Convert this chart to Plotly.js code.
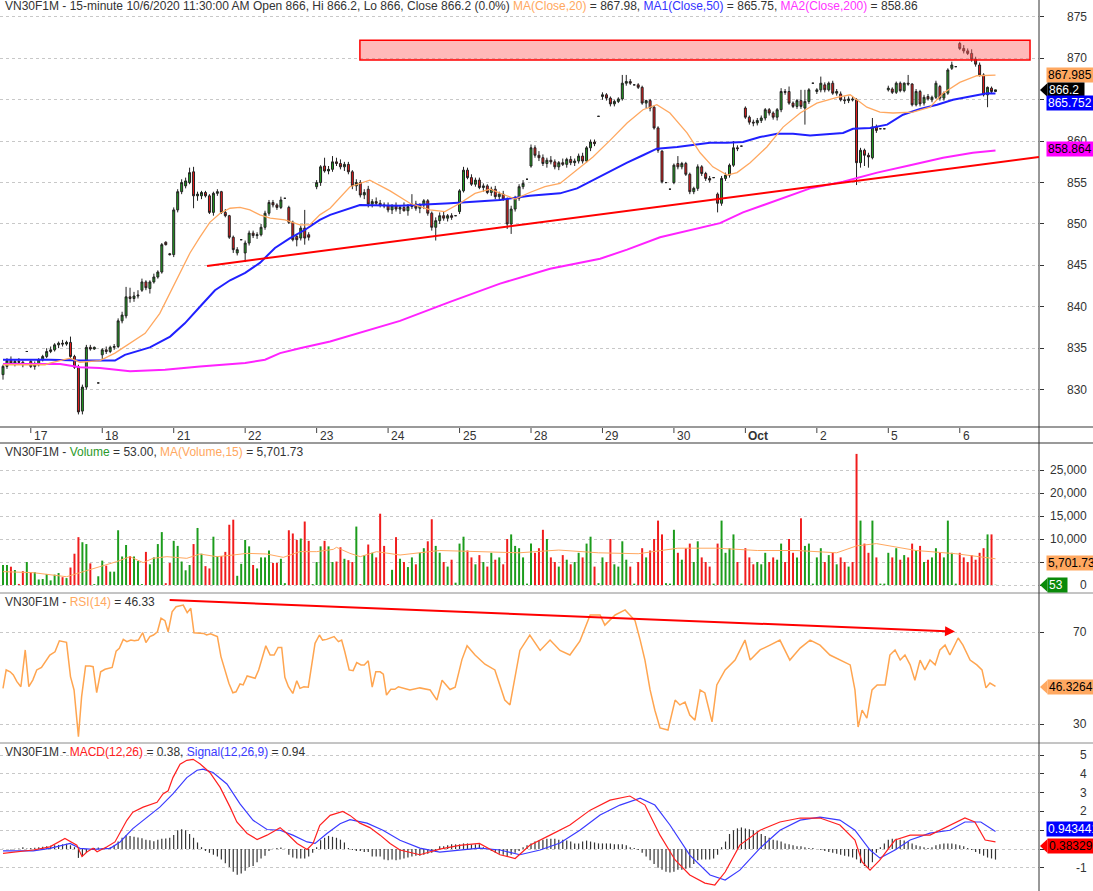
<!DOCTYPE html>
<html><head><meta charset="utf-8">
<script src="https://cdn.plot.ly/plotly-3.0.1.min.js"></script>
<style>html,body{margin:0;padding:0;background:#fff;}#chart{width:1093px;height:891px;}</style>
</head><body><div id="chart"></div>
<script>
// ---------------- DATA ----------------
const open = [
831.8,832.8,833.5,833.2,833.4,833.3,834.6,
833.4,832.8,833.0,833.6,834.0,834.6,834.8,835.4,835.6,835.5,835.7,834.0,832.7,827.4,830.3,835.1,834.9,830.8,
834.2,834.8,834.6,835.1,835.2,838.3,838.9,841.2,841.0,841.3,842.0,843.0,842.2,843.0,843.6,844.2,847.8,846.4,
846.3,851.7,853.9,854.6,855.0,856.3,853.4,853.4,853.8,853.4,851.4,853.7,853.9,851.4,851.0,848.4,846.5,848.1,
846.5,847.7,848.9,848.6,848.7,849.6,851.3,852.6,852.3,852.0,853.1,852.0,850.2,848.5,848.3,849.5,848.7,850.0,
854.5,855.0,857.0,856.4,856.6,857.5,857.3,856.9,857.2,856.3,854.6,855.0,853.5,854.2,852.4,852.7,852.5,852.3,
852.2,851.7,852.2,851.8,852.0,851.6,852.1,852.4,851.9,852.3,852.8,851.3,849.6,850.4,851.0,850.7,851.0,851.0,
851.5,854.0,856.5,855.6,854.8,855.3,854.4,854.6,853.8,854.2,853.3,853.6,853.0,850.0,851.8,853.1,854.5,855.4,
857.0,859.2,858.3,858.0,857.3,857.7,857.5,856.9,857.4,857.2,857.8,857.4,857.6,858.2,857.6,859.2,859.9,863.0,
865.4,865.6,865.2,864.5,864.8,865.1,867.0,867.2,866.8,866.8,866.5,864.6,864.9,864.1,861.6,858.8,855.0,854.2,
855.0,857.3,856.9,857.3,856.0,853.9,854.3,856.9,856.1,855.5,855.6,853.6,852.5,855.5,855.9,857.1,859.2,859.4,
864.0,862.9,862.3,862.2,862.5,862.8,863.8,863.4,862.9,863.8,866.0,866.0,864.6,864.2,864.9,864.0,864.8,867.0,
866.0,866.2,866.8,866.2,867.0,865.8,865.7,865.0,864.9,865.1,865.0,857.4,858.9,858.3,858.0,861.7,861.5,861.5,
866.2,866.3,865.9,867.0,866.1,867.0,866.9,864.4,866.0,864.6,865.4,865.0,865.3,866.6,865.2,865.8,868.8,869.0,
871.8,871.2,870.9,870.6,869.9,869.2,868.0,865.6,866.4,866.0];
const high = [
833.0,833.8,834.0,833.6,833.8,833.5,834.6,
833.6,833.4,833.8,834.2,835.0,835.2,835.6,835.8,836.0,835.9,836.4,834.2,833.0,830.6,835.4,835.4,835.2,830.8,
835.0,835.2,835.3,835.5,838.6,839.4,842.4,842.3,841.8,842.0,843.4,843.2,843.2,844.0,844.4,847.7,847.9,846.5,
852.0,854.2,855.4,855.6,856.8,856.9,853.9,854.0,854.0,853.6,853.9,854.2,854.0,851.8,851.1,848.6,847.2,848.1,
848.0,849.2,849.2,849.0,850.0,851.6,852.9,852.9,852.5,853.3,853.1,852.2,850.4,848.8,849.8,851.7,849.0,850.0,
855.3,857.1,858.0,857.0,858.2,858.0,857.8,857.5,857.5,856.5,855.4,855.3,854.2,854.6,853.0,853.2,852.9,852.6,
852.6,852.4,852.6,852.3,852.6,852.4,853.6,852.8,852.5,853.0,853.0,851.5,850.8,851.4,851.5,851.2,851.3,851.0,
854.2,856.9,856.8,856.0,855.6,855.6,854.9,854.8,854.5,854.6,853.9,854.0,853.2,852.2,853.4,854.8,855.3,855.4,
859.6,859.5,858.8,858.4,858.0,858.2,857.8,857.6,857.9,858.0,858.2,857.9,858.5,858.6,859.4,860.2,860.2,863.0,
865.9,865.8,865.4,865.0,865.3,868.0,868.0,867.5,866.8,867.0,866.7,865.0,865.1,864.3,861.8,858.9,855.0,854.2,
857.3,858.2,857.5,857.5,856.2,854.5,857.2,857.1,856.3,855.8,855.6,853.8,855.8,856.2,857.3,860.0,859.5,859.4,
864.2,863.1,862.6,862.8,863.1,864.0,864.0,863.6,864.0,866.4,866.3,866.6,864.8,865.1,866.2,866.2,866.4,867.0,
866.4,867.8,867.1,867.2,867.3,866.3,866.0,865.4,865.4,865.4,865.2,859.2,859.1,858.6,862.8,862.0,861.5,861.5,
866.7,866.5,867.2,867.2,867.1,868.0,867.0,866.3,866.2,865.6,865.7,865.5,867.3,866.8,866.0,868.8,869.6,869.0,
872.0,871.6,871.2,871.1,870.2,869.5,868.2,866.6,866.6,866.2];
const low = [
831.2,832.5,833.0,832.8,833.0,832.7,834.6,
832.6,832.4,832.8,833.4,833.8,834.4,834.6,835.0,835.2,835.3,833.7,832.5,827.0,827.0,830.0,834.7,834.8,830.8,
833.6,834.3,834.4,834.8,835.0,838.0,838.6,840.5,840.6,841.0,841.8,842.0,841.6,842.8,843.4,844.0,847.4,846.2,
846.0,851.4,853.6,854.3,854.8,851.9,852.8,853.0,853.2,851.2,851.0,853.4,851.2,850.8,848.2,846.5,846.2,848.1,
845.4,847.4,848.3,848.2,848.5,849.3,851.0,852.0,851.7,851.8,853.1,850.0,847.9,847.3,848.0,847.5,848.0,850.0,
854.2,854.6,856.2,856.0,856.3,857.0,856.6,856.4,856.0,854.2,854.0,853.2,853.0,852.0,852.0,852.2,852.0,851.9,
851.4,851.2,851.5,851.2,851.5,851.0,851.8,851.6,851.3,851.8,851.0,849.2,848.0,850.0,850.4,850.3,850.5,851.0,
851.2,853.8,855.4,854.6,854.5,854.2,853.9,853.6,853.4,853.0,852.8,852.8,849.4,848.8,851.5,852.8,854.2,855.4,
856.8,858.0,857.6,857.0,856.8,857.2,856.6,856.5,857.0,856.8,857.1,857.0,857.3,857.3,857.4,858.8,859.4,863.0,
865.0,864.9,864.2,864.2,864.6,864.9,866.7,866.8,866.8,866.3,864.4,864.0,863.6,861.4,858.6,854.9,855.0,854.2,
854.8,856.6,856.6,855.8,853.6,853.6,854.0,855.8,855.2,855.0,855.6,851.4,852.2,855.2,855.6,856.9,858.8,859.4,
862.7,862.0,861.8,861.9,862.2,862.5,863.1,862.6,862.5,863.5,865.6,864.4,864.0,863.9,863.9,862.0,864.5,867.0,
865.7,865.9,865.9,866.0,865.6,865.5,864.8,864.5,864.6,864.8,854.7,856.8,857.0,856.8,857.8,861.0,861.5,861.5,
866.0,865.7,865.7,865.9,865.9,866.7,864.2,864.2,864.2,864.3,864.9,864.7,865.1,864.9,864.9,865.6,868.6,869.0,
871.0,870.6,870.4,869.6,869.0,867.8,865.4,864.1,865.8,866.0];
const close = [
832.8,833.5,833.2,833.4,833.3,833.0,834.6,
832.8,833.0,833.6,834.0,834.6,834.8,835.4,835.6,835.5,835.7,834.0,832.7,827.3,830.3,835.1,834.9,835.1,830.8,
834.8,834.6,835.1,835.2,838.3,839.0,841.2,841.0,841.3,841.4,843.0,842.3,843.0,843.6,844.2,847.5,847.5,846.3,
851.7,853.9,855.0,855.2,856.2,853.4,853.6,853.8,853.4,851.4,853.7,853.9,851.4,851.0,848.4,846.9,846.9,848.1,
847.7,848.9,848.6,848.7,849.6,851.3,852.6,852.3,852.0,852.9,853.1,850.2,848.1,848.1,849.5,848.3,848.4,850.0,
855.0,856.9,856.4,856.6,857.5,857.3,856.9,857.2,856.3,854.6,855.0,853.5,853.8,852.4,852.7,852.5,852.3,852.2,
851.7,852.2,851.8,852.0,851.6,852.1,852.4,851.9,852.3,852.8,851.3,849.6,850.4,851.0,850.7,851.0,850.8,851.0,
854.0,856.5,855.6,854.8,855.3,854.4,854.6,853.8,854.2,853.3,853.6,853.0,850.0,851.8,853.1,854.5,854.9,855.4,
859.2,858.3,858.0,857.3,857.7,857.5,856.9,857.4,857.2,857.8,857.4,857.6,858.2,857.6,859.2,859.9,859.7,863.0,
865.6,865.2,864.5,864.8,865.1,867.0,867.2,867.0,866.8,866.5,864.6,864.9,864.0,861.6,858.9,855.1,855.0,854.2,
857.1,856.9,857.3,856.0,853.9,854.3,856.9,856.1,855.5,855.3,855.6,852.5,855.5,855.9,857.1,859.2,859.1,859.4,
862.9,862.3,862.2,862.5,862.8,863.8,863.4,862.9,863.8,866.0,865.9,864.6,864.2,864.9,864.2,864.8,866.2,867.0,
866.2,867.0,866.2,867.0,865.8,866.0,865.0,864.9,865.1,865.0,857.4,858.9,858.3,858.1,861.7,861.3,861.5,861.5,
866.4,865.9,867.0,866.1,867.0,866.9,864.4,866.0,864.5,865.3,865.1,865.3,867.0,865.2,865.8,868.6,869.2,869.0,
871.2,870.9,870.6,869.9,869.3,868.0,865.6,866.5,866.0,866.2];
const volume = [
4350,4350,3980,3260,230,3000,5000,2800,2800,1200,
1300,2400,1000,2250,2600,1700,1500,3800,6800,10400,
9300,8900,4700,200,1900,5300,4200,2900,2900,11900,
6200,8700,6300,6200,5200,200,7200,4500,6000,8900,
11500,400,4800,9600,8500,5100,3200,4350,8900,12400,
6800,4100,3600,10500,6300,6300,7200,13100,14200,2000,
4600,9800,8400,4350,3600,6000,6000,7500,4800,4800,
5700,400,11900,11200,9800,10100,13800,9600,200,5000,
8400,9600,8400,5000,5100,8200,5700,5400,5000,12700,
200,6500,8800,7000,6000,15500,8500,200,3300,10400,
5700,5000,3900,6000,4500,7000,8000,9500,14300,8500,
7000,5000,4000,5500,500,
9000,10500,7500,6000,4500,6500,5000,4000,7000,5500,6000,4500,10000,11000,8500,8000,6000,300,
9000,7000,8000,12000,10000,6000,5000,4000,6500,5500,4500,5000,7000,6000,9000,10500,4000,400,
6000,5000,10000,4500,4000,9500,5500,4000,300,5000,8000,6000,7500,10000,14000,11000,400,300,
12000,7000,5500,8000,9000,5000,9500,6000,5000,4000,300,9000,14000,7000,8000,11000,5000,300,
8000,6000,4500,5000,4500,7000,5000,6000,5500,9000,5000,10000,7000,6000,14500,8500,9000,300,
6000,8000,5000,6500,7000,4500,6000,5000,4000,5000,28500,14000,9000,7000,14000,6000,300,300,
7000,6000,8000,5500,6500,6000,9000,7500,8500,5000,5500,6000,8000,7000,6000,14000,7000,300,
7000,6000,5000,6500,5500,7000,8000,11000,11000,53];
// moving averages (bar index, value)
const ma20Idx = [0,4.3,10.6,11.8,16.9,19.4,24.4,28.2,32,35.8,39.5,42.1,44.6,47.1,49.6,52.1,54.7,57.2,59.7,62.2,64.7,67.3,71,74.8,77.3,79.8,82.4,87.4,92.4,97.5,102.5,107.6,111.3,115.1,118.9,122.7,126.4,129,132.7,136.5,140.3,144.6,148.6,152.9,157.2,161.2,164.7,168,172.3,175.6,178.8,182.4,184.9,188.2,192.4,196.5,200.8,205,210.1,213.4,215.1,217.6,220.9,224.2,229.2,233.5,236.8,241,245.3,250];
const ma20 = [833.0,833.0,833.0,833.2,833.8,833.3,833.5,834.4,835.6,836.8,839.2,841.7,844.1,846.5,848.4,850.2,851.3,851.9,852.0,851.7,851.1,850.7,850.5,849.9,849.9,851.1,851.9,854.5,855.3,854.0,852.5,851.7,851.5,852.5,853.7,854.2,853.5,853.0,853.8,854.5,854.9,856.5,858.1,860.1,862.2,863.8,864.4,863.4,861.0,858.6,856.9,855.9,856.2,857.4,859.3,861.7,863.4,864.6,865.3,865.6,865.0,864.1,863.5,863.4,863.5,864.1,865.8,867.1,867.9,867.98];
const ma50Idx = [0,11.8,19.4,28.2,30.7,37,42.1,45.8,49.6,53.4,57.2,61,64.7,68.5,72.3,76.1,79.8,82.4,89.9,100,112.6,125.2,132.7,140.3,144.6,148.6,152.9,157.2,161.2,164.7,169.8,173.8,178.1,182.4,186.4,190.7,195,199,203.3,211.6,214.1,218.4,222.7,226.7,231,235.3,239.3,243.6,247.9,250];
const ma50 = [833.6,833.6,833.5,833.5,834.2,835.1,836.4,838.0,840.0,842.0,843.2,844.1,845.3,847.1,848.3,849.3,850.5,851.1,852.3,852.2,852.5,852.9,853.4,853.7,854.3,855.3,856.3,857.4,858.3,859.1,859.3,859.5,859.8,859.8,859.9,860.5,860.9,860.9,860.7,861.0,861.5,861.6,862.0,863.2,863.9,864.4,865.0,865.4,865.8,865.75];
const ma200Idx = [0,14.4,19.4,24.4,32,40.8,49.6,61,66,69.8,74.8,82.4,100,112.6,125.2,137.8,150.4,157.2,165.5,173.8,180.6,186.4,195,203.3,211.6,220.2,228.5,236.8,244.3,250];
const ma200 = [833.1,833.1,832.7,832.6,832.2,832.4,832.8,833.2,833.6,834.4,835.0,835.8,838.3,840.6,842.8,844.6,845.8,846.9,848.4,849.3,850.1,851.4,852.9,854.3,855.1,856.2,857.1,858.0,858.6,858.86];
const volMaIdx = [0,7.6,16,20,24.4,28.6,32,35.3,37.8,41.3,46.3,49.6,53.8,58,61.4,66.4,70.6,74.8,79,83.2,84,87.4,90,94.1,100,110,120,130,140,150,160,170,180,190,200,210,215,220,230,240,250];
const volMa = [2900,2680,1800,2900,3990,5070,6160,4860,5800,6160,5800,6740,6160,6520,6880,6740,6010,7250,7250,7750,8190,6880,6160,7250,6520,7500,7200,7000,7600,7000,6800,8000,8000,7500,7500,7000,8500,9000,7500,6800,5701.73];
const rsiIdx = [0,0.8,1.8,2.6,3.5,4.5,5.6,6.5,7.5,8.5,9.7,11,11.8,13.1,14.2,16,17,17.9,19,19.8,20.8,21.9,22.7,23.6,24.6,25.7,26.5,27.5,28.5,29.3,30.3,31.2,32.2,33.1,34.1,35.2,36,37,37.9,38.9,39.8,40.8,41.6,42.6,43.6,44.6,45.4,46.4,47.3,48.1,49.4,50.5,51.3,52.3,53,54,54.9,55.9,56.9,57.9,58.7,59.7,60.5,61.5,62.6,63.5,64.4,65.4,66.2,67.3,68.3,69.3,70.2,71,71.9,73,74,74.8,75.8,76.9,77.8,78.6,79.7,80.5,81.5,82.4,83.4,84.5,85.3,86.1,87.2,88.2,89.1,90.2,91,92,93,93.9,95,95.8,96.6,97.7,98.7,99.6,101.3,102.5,105,107.6,109.3,110.6,112.6,113.9,115.6,116.9,118.9,121.4,123.9,126.4,127.7,129,130.2,132.7,135.3,137.8,140.3,142.8,145.3,147.9,150.4,151.6,154.2,156.7,159.2,160.5,161.7,163,164.2,165.5,167.5,169.3,170.5,171.8,173,174.3,175.6,176.8,178.6,179.8,181.9,184.4,186.9,188.2,190.7,193.2,195.7,198.2,200.8,203.3,205.8,208.3,210.8,213.4,214.6,215.4,216.4,217.6,218.9,220.2,222.2,223.4,224.7,226,227.2,228.5,229.7,231,232.2,233.5,234.8,236,237.3,238.5,240.6,241.8,243.6,245.3,246.6,247.6,248.6,250];
const rsi = [45.5,53.5,52.7,51.3,48.4,46.2,62.2,46.2,49.1,53.5,54.6,57.8,60,61.4,66.2,65.5,50.6,44.8,24.5,41.9,55.2,55.2,54.9,43.6,52.7,53.8,54.2,54.6,61.7,62.9,66.8,65.8,66.5,66.2,66.5,69.7,65.4,68,68.7,70.1,76,74.9,70.1,78.8,81,81.3,81.7,78.4,80.3,69.7,69.7,69.4,68.7,69.2,68.7,68,59.3,53.5,47.7,43.6,44,47.4,47,50.9,50.3,49.9,53.5,60,64,60,60,63.3,63.3,50.3,46.2,43.3,48.8,45.5,46.2,46,57.1,65.1,68.7,66.5,66.8,67.5,68,65.8,66.5,61.4,53.5,53.2,56.7,55.7,55.7,57.5,46,52.7,52.7,51.7,42.6,45.1,45.1,46.2,45.5,44.8,45.7,44.8,40.4,49,45,46,58,64,60,56,53.5,40.4,38.3,50,62,68.7,62,66.5,62,60,66,77.4,77.4,73,77.4,79.6,75,66.5,57.8,44.8,36,28.3,27.4,40.4,38.3,39.5,33.9,31.7,44.8,43.5,30.9,47,53.5,57.8,66.5,57.8,62.2,64.3,66.5,57.8,63,66.5,64.3,60,57.8,55.7,44.8,28.7,36,32.6,44.8,47,47,60,62.2,57.8,60,55.7,49,57.8,53.5,57.8,55.7,62.2,64.3,60,67.4,64.3,57.8,55.7,53.5,45.7,47.8,46.33];
const macdIdx = [0,4.3,7.6,11.8,15.6,18.6,19.9,21.2,22.7,23.7,26.2,28.2,30,31.2,32.7,35.3,38.8,40.3,41.6,42.8,44.6,46.3,47.9,49.6,52.1,54.7,57.2,58.9,61.5,64,66.5,69.8,71.5,74.1,76.6,78.1,79.8,82.4,85.6,87.4,89.9,92.4,95,97.5,100,105,110,115,120,125.2,129,132.7,137.8,142.8,147.9,152.9,157.9,161.7,165.5,169.3,173,176.8,179.3,181.9,185.6,190.7,195.7,200.8,205.8,210.8,214.6,216.4,218.4,220.9,224.7,228.5,233.5,238.5,242.3,244.8,247.4,250];
const macd = [-0.23,-0.14,-0.05,0.12,0.56,0.21,-0.4,-0.14,0.04,-0.14,0.12,0.38,1.09,1.53,1.96,2.23,2.49,2.93,3.1,3.8,4.51,4.72,4.77,4.54,4.07,3.28,2.23,1.44,0.83,0.51,0.74,1.14,0.83,0.3,-0.02,0.3,1.26,1.79,2.0,1.79,1.38,1.14,0.74,0.3,-0.05,-0.3,0,0.2,0.3,-0.3,-0.5,0.2,0.74,1.28,2.07,2.6,2.82,2.34,0.74,-0.58,-1.38,-1.81,-1.91,-1.22,0.21,1.0,1.44,1.65,1.65,1.28,0.48,-0.69,-1.12,-0.58,0.48,0.74,0.74,1.28,1.65,1.44,0.48,0.38];
const signalIdx = [0,7.6,11.8,16.9,19.4,22.7,27,29.5,32.7,36.3,39.5,42.8,46.3,48.9,50.4,52.9,56.4,59.7,63,66.5,69.8,73,76.6,78.6,81.6,84.9,87.4,91.7,95.7,100,105,110,115,120,125.2,130.2,135.3,140.3,145.3,150.4,155.4,160.5,164.2,168,173,178.1,181.9,185.6,190.7,195.7,200.8,205.8,210.8,214.6,218.4,220.9,224.7,228.5,233.5,238.5,242.3,246.3,250];
const signal = [-0.1,-0.1,0.04,0.3,0.04,-0.02,0.04,0.38,1.09,1.7,2.23,2.93,3.8,4.19,4.25,4.07,3.46,2.4,1.53,1.04,1.0,0.74,0.38,0.3,0.83,1.35,1.56,1.38,1.0,0.47,0.05,-0.16,-0.05,0.05,-0.05,-0.3,-0.05,0.32,1.0,1.81,2.34,2.71,2.34,1.28,-0.32,-1.38,-1.65,-1.12,0.05,1.0,1.54,1.7,1.54,1.0,-0.05,-0.48,-0.05,0.48,0.85,1.0,1.44,1.44,0.94];
const histogram = [
0.02,0.0,-0.02,0.02,0.03,0.1,0.03,0.05,0.07,0.1,
0.12,0.15,0.18,0.2,0.22,0.25,0.28,0.2,0.1,-0.47,
-0.4,-0.2,0.0,0.05,0.08,0.05,0.08,0.1,0.2,0.4,
0.6,0.74,0.7,0.65,0.62,0.58,0.5,0.47,0.42,0.5,
0.55,0.56,0.6,0.75,1.0,1.05,1.0,0.8,0.6,0.35,
0.1,-0.1,-0.2,-0.3,-0.4,-0.55,-0.75,-0.95,-1.2,-1.37,
-1.3,-1.15,-0.95,-0.9,-0.7,-0.5,-0.35,-0.1,0.02,0.05,
0.08,0.02,-0.3,-0.45,-0.5,-0.5,-0.5,-0.4,-0.2,0.1,
0.47,0.6,0.7,0.65,0.6,0.5,0.35,0.05,-0.05,-0.1,
-0.1,-0.15,-0.15,-0.4,-0.4,-0.4,-0.55,-0.6,-0.55,-0.6,
-0.55,-0.5,-0.45,-0.4,-0.35,
-0.35,-0.3,-0.25,-0.2,-0.15,0.15,
0.15,0.2,0.25,0.25,0.25,0.3,0.3,0.25,0.25,0.25,
0.1,0.0,-0.1,-0.2,-0.25,-0.3,-0.4,-0.3,-0.2,-0.1,
0.1,0.2,0.3,0.4,0.45,0.5,0.55,0.55,0.55,0.5,
0.5,0.45,0.4,0.3,0.3,0.4,0.45,0.4,0.35,0.3,
0.3,0.3,0.3,0.25,0.25,0.25,0.2,0.1,0.05,-0.05,
-0.2,-0.4,-0.6,-0.8,-1.0,-1.1,-1.2,-1.25,-1.2,-1.1,
-1.1,-1.05,-1.0,-0.8,-0.6,-0.55,-0.55,-0.55,-0.5,-0.3,
0.1,0.4,0.8,1.0,1.1,1.15,1.1,1.05,1.0,0.95,
0.8,0.7,0.6,0.5,0.45,0.4,0.3,0.25,0.2,0.15,
0.15,0.1,0.05,0.05,0.0,-0.05,-0.1,-0.15,-0.2,-0.25,
-0.3,-0.35,-0.4,-0.45,-0.55,-0.75,-0.9,-1.0,-0.7,-0.2,
0.1,0.3,0.5,0.55,0.55,0.5,0.45,0.4,0.3,0.2,
0.15,0.1,0.05,0.1,0.2,0.25,0.3,0.3,0.3,0.25,
0.2,0.15,0.05,-0.05,-0.15,-0.25,-0.35,-0.45,-0.5,-0.56];
const dayLabels = ['17','18','21','22','23','24','25','28','29','30','<b>Oct</b>','2','5','6'];
const dayFirstBar = [7,25,43,61,79,97,115,133,151,169,187,205,223,241];
const priceTicks = [830,835,840,845,850,855,860,865,870,875];
const volTicks = [0,5000,10000,15000,20000,25000];
const rsiTicks = [30,70];
const macdTicks = [-1,0,1,2,3,4,5];
// tick labels hidden behind the value boxes in the reference
const coveredLabels = {y:[865], y2:[5000], y3:[], y4:[1]};

// ---------------- DRAWING ----------------
const W = 1093, H = 891, AX = 1039;
const px = v => v / W, py = v => 1 - v / H;
const FONT = 'Liberation Sans, Arial, sans-serif';
const TXT = '#333333';
const ORANGE = '#ffa860', BLUE = '#2020ff', MAG = '#ff22ff';
const idx = close.map((_, i) => i);
const volColor = close.map((c, i) => c >= open[i] ? '#1c9c1c' : '#f01c1c');

const traces = [
  {type:'candlestick', x:idx, open:open, high:high, low:low, close:close, xaxis:'x', yaxis:'y',
   increasing:{line:{color:'#222', width:1}, fillcolor:'#22a322'},
   decreasing:{line:{color:'#222', width:1}, fillcolor:'#ee1c1c'},
   whiskerwidth:0, hoverinfo:'skip'},
  {type:'scatter', mode:'lines', x:ma200Idx, y:ma200, line:{color:MAG, width:2}, xaxis:'x', yaxis:'y', hoverinfo:'skip'},
  {type:'scatter', mode:'lines', x:ma50Idx, y:ma50, line:{color:BLUE, width:2}, xaxis:'x', yaxis:'y', hoverinfo:'skip'},
  {type:'scatter', mode:'lines', x:ma20Idx, y:ma20, line:{color:ORANGE, width:1.3}, xaxis:'x', yaxis:'y', hoverinfo:'skip'},
  {type:'bar', x:idx, y:volume, width:0.5, marker:{color:volColor, line:{width:0}}, xaxis:'x', yaxis:'y2', hoverinfo:'skip'},
  {type:'scatter', mode:'lines', x:volMaIdx, y:volMa, line:{color:ORANGE, width:1}, xaxis:'x', yaxis:'y2', hoverinfo:'skip'},
  {type:'scatter', mode:'lines', x:rsiIdx, y:rsi, line:{color:'#ffa550', width:1.5}, xaxis:'x', yaxis:'y3', hoverinfo:'skip'},
  {type:'bar', x:idx, y:histogram, width:0.3, marker:{color:'#333', line:{width:0}}, xaxis:'x', yaxis:'y4', hoverinfo:'skip'},
  {type:'scatter', mode:'lines', x:signalIdx, y:signal, line:{color:'#3a3aff', width:1.2}, xaxis:'x', yaxis:'y4', hoverinfo:'skip'},
  {type:'scatter', mode:'lines', x:macdIdx, y:macd, line:{color:'#ff2020', width:1.2}, xaxis:'x', yaxis:'y4', hoverinfo:'skip'}
];

const yBase = {showgrid:true, gridcolor:'#c8c8c8', griddash:'dot', gridwidth:1, zeroline:false, showline:false,
  side:'right', anchor:'x', ticks:'outside', ticklen:4, tickcolor:'#333', showticklabels:false, fixedrange:true};

const shapes = [];
const annotations = [];
const line = (x0,y0,x1,y1,color,width) => shapes.push({type:'line', xref:'paper', yref:'paper',
  x0:px(x0), y0:py(y0), x1:px(x1), y1:py(y1), line:{color:color, width:width}, layer:'above'});

// panel separators and right axis line
line(0,427,W,427,'#9a9a9a',2);
line(0,443,W,443,'#9a9a9a',2);
line(0,593,W,593,'#8a8a8a',1);
line(0,743,W,743,'#8a8a8a',1);
line(AX,0,AX,H,'#333',1);

// red resistance box and rising trend line on the price panel
shapes.push({type:'rect', xref:'x', yref:'y', x0:89.9, x1:258.7, y0:869.8, y1:872.2,
  fillcolor:'rgba(255,100,100,0.45)', line:{color:'#ff0000', width:1.5}, layer:'above'});
shapes.push({type:'line', xref:'x', yref:'y', x0:51.4, y0:844.93, x1:260.96, y1:858.09,
  line:{color:'#ff0000', width:2}, layer:'above'});

// date ticks and labels
dayFirstBar.forEach((b, k) => {
  shapes.push({type:'line', xref:'x', yref:'paper', x0:b, x1:b, y0:py(428), y1:py(433), line:{color:'#444', width:1}});
  annotations.push({xref:'x', yref:'paper', x:b, y:py(435.5), xanchor:'left', yanchor:'middle', xshift:1,
    text:dayLabels[k], showarrow:false, font:{family:FONT, size:12, color:TXT}});
});

// right-side tick labels
const fmt = v => v.toLocaleString('en-US');
const tickLab = (vals, yref) => vals.filter(v => coveredLabels[yref].indexOf(v) < 0).forEach(v =>
  annotations.push({xref:'paper', x:px(1089), xanchor:'right',
  yref:yref, y:v, yanchor:'middle', text:fmt(v), showarrow:false, font:{family:FONT, size:12, color:TXT}}));
tickLab(priceTicks, 'y');
tickLab(volTicks, 'y2');
tickLab(rsiTicks, 'y3');
tickLab(macdTicks, 'y4');

// headers
const hdr = (text, yc) => annotations.push({xref:'paper', yref:'paper', x:px(3), y:py(yc), xanchor:'left', yanchor:'middle',
  text:text, showarrow:false, font:{family:FONT, size:12, color:TXT}});
hdr('VN30F1M - 15-minute 10/6/2020 11:30:00 AM Open 866, Hi 866.2, Lo 866, Close 866.2 (0.0%) ' +
    '<span style="color:' + ORANGE + '">MA(Close,20)</span> = 867.98, ' +
    '<span style="color:#3333ff">MA1(Close,50)</span> = 865.75, ' +
    '<span style="color:#ff33ff">MA2(Close,200)</span> = 858.86', 6);
hdr('VN30F1M - <span style="color:#2a9a2a">Volume</span> = 53.00, <span style="color:' + ORANGE + '">MA(Volume,15)</span> = 5,701.73', 452);
hdr('VN30F1M - <span style="color:' + ORANGE + '">RSI(14)</span> = 46.33', 601.5);
hdr('VN30F1M - <span style="color:#ff2020">MACD(12,26)</span> = 0.38, <span style="color:#3a3aff">Signal(12,26,9)</span> = 0.94', 752);

// value boxes on the right axis
const boxes = [
  {t:'867.985', yc:75, bg:'#ffa860', fc:'#000', x0:1046, x1:1094, arrow:false},
  {t:'866.2', yc:90, bg:'#000000', fc:'#fff', x0:1047, x1:1083, arrow:true},
  {t:'865.752', yc:103, bg:'#0000ff', fc:'#fff', x0:1046, x1:1094, arrow:false},
  {t:'858.864', yc:149, bg:'#ff00ff', fc:'#000', x0:1046, x1:1094, arrow:false},
  {t:'5,701.73', yc:563, bg:'#ffa860', fc:'#000', x0:1046, x1:1094, arrow:false},
  {t:'53', yc:585, bg:'#0a8a0a', fc:'#fff', x0:1047, x1:1066, arrow:true},
  {t:'46.3264', yc:687, bg:'#ffa860', fc:'#000', x0:1047, x1:1094, arrow:true},
  {t:'0.943441', yc:829, bg:'#0000ff', fc:'#fff', x0:1046, x1:1094, arrow:false},
  {t:'0.38329', yc:846, bg:'#ff0000', fc:'#000', x0:1047, x1:1094, arrow:true}
];
boxes.forEach(b => {
  annotations.push({xref:'paper', yref:'paper', x:px(b.x0), y:py(b.yc), xanchor:'left', yanchor:'middle',
    text:b.t, showarrow:false, bgcolor:b.bg, borderpad:1, width:b.x1 - b.x0 - 2, height:12, align:'left',
    font:{family:FONT, size:12, color:b.fc}});
  if (b.arrow) {
    const p = 'M ' + px(1040) + ' ' + py(b.yc) + ' L ' + px(b.x0 + 0.5) + ' ' + py(b.yc - 7) +
              ' L ' + px(b.x0 + 0.5) + ' ' + py(b.yc + 7) + ' Z';
    shapes.push({type:'path', xref:'paper', yref:'paper', path:p, fillcolor:b.bg, line:{width:0}, layer:'above'});
  }
});

// RSI divergence arrow
annotations.push({xref:'x', yref:'y3', x:239.8, y:70.2, axref:'x', ayref:'y3', ax:41.6, ay:83.9,
  text:'', showarrow:true, arrowhead:2, arrowsize:1, arrowwidth:2, arrowcolor:'#ff0000'});

const layout = {
  width:W, height:H, margin:{l:0, r:0, t:0, b:0}, paper_bgcolor:'#ffffff', plot_bgcolor:'#ffffff',
  showlegend:false, hovermode:false, barmode:'overlay',
  xaxis:{domain:[0, px(AX)], range:[-0.756, 260.96], showgrid:false, zeroline:false, showticklabels:false,
         ticks:'', showline:false, rangeslider:{visible:false}, fixedrange:true, anchor:'y'},
  yaxis:Object.assign({}, yBase, {domain:[py(427), 1], range:[825.48, 877.05], tickvals:priceTicks}),
  yaxis2:Object.assign({}, yBase, {domain:[py(593), py(443)], range:[-1739, 30870], tickvals:volTicks}),
  yaxis3:Object.assign({}, yBase, {domain:[py(743), py(593)], range:[21.74, 86.96], tickvals:rsiTicks}),
  yaxis4:Object.assign({}, yBase, {domain:[0, py(743)], range:[-2.23, 5.64], tickvals:macdTicks}),
  shapes:shapes, annotations:annotations
};
Plotly.newPlot('chart', traces, layout, {displayModeBar:false, staticPlot:true});
</script></body></html>
